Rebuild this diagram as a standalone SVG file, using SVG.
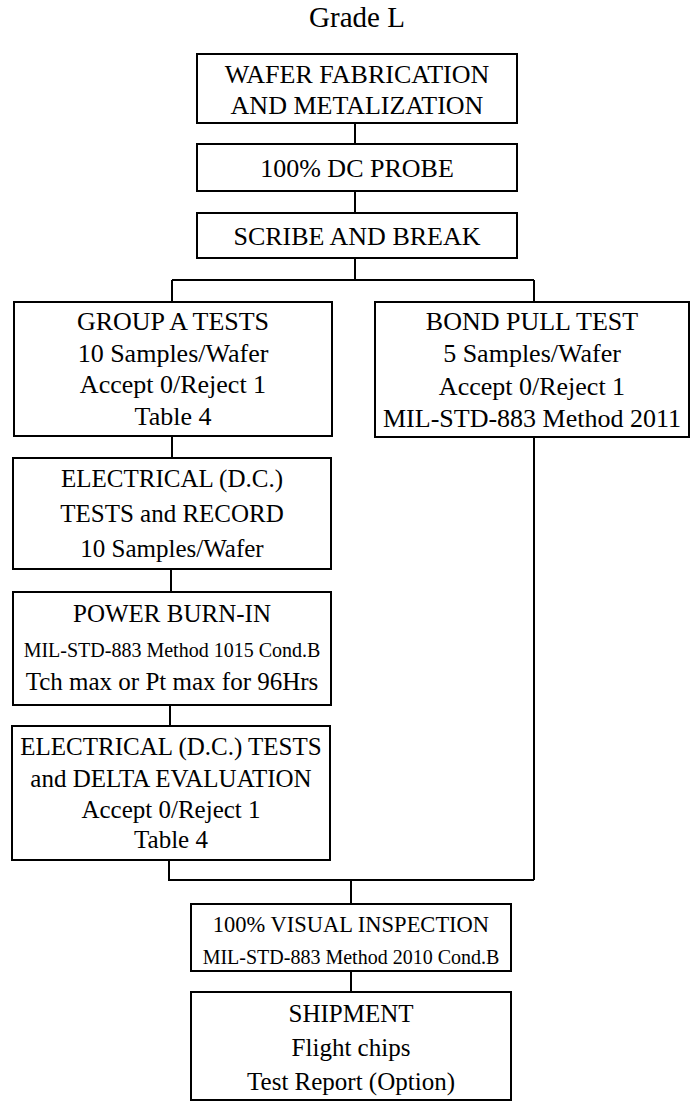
<svg xmlns="http://www.w3.org/2000/svg" width="690" height="1102" viewBox="0 0 690 1102" font-family="Liberation Serif, Times New Roman, DejaVu Serif, serif">
<style>
.box{fill:#fff;stroke:#000;stroke-width:2}
.c{fill:none;stroke:#000;stroke-width:2}
text{font-family:'Liberation Serif','Times New Roman','DejaVu Serif',serif;fill:#000;text-anchor:middle}
.t26{font-size:26px}
.t25{font-size:25px}
.t22{font-size:22.5px}
.t20{font-size:20px}
</style>
<rect width="690" height="1102" fill="#fff"/>
<text x="357" y="27" font-family="Liberation Serif, serif" style="font-size:29px">Grade L</text>
<g id="connectors">
<path class="c" d="M355 123V144M355 191V213M355 258V280M172 280H534M172 280V302M534 280V302M172 436V458M171 569V592M170 705V726M169 860V880H534M534 437V880M351 880V904M351 971V992"/>
</g>
<g font-family="Liberation Serif, serif">
<g id="wafer">
<rect class="box" x="197" y="54" width="320" height="69"/>
<text class="t26" x="357" y="83">WAFER FABRICATION</text>
<text class="t26" x="357" y="114">AND METALIZATION</text>
</g>
<g id="probe">
<rect class="box" x="197" y="144" width="320" height="47"/>
<text class="t26" x="357" y="177">100% DC PROBE</text>
</g>
<g id="scribe">
<rect class="box" x="197" y="213" width="320" height="45"/>
<text class="t26" x="357" y="245">SCRIBE AND BREAK</text>
</g>
<g id="groupA">
<rect class="box" x="14" y="302" width="318" height="134"/>
<text class="t26" x="173" y="330">GROUP A TESTS</text>
<text class="t26" x="173" y="362">10 Samples/Wafer</text>
<text class="t26" x="173" y="393">Accept 0/Reject 1</text>
<text class="t26" x="173" y="425">Table 4</text>
</g>
<g id="bondpull">
<rect class="box" x="375" y="302" width="314" height="135"/>
<text class="t26" x="532" y="330">BOND PULL TEST</text>
<text class="t26" x="532" y="362">5 Samples/Wafer</text>
<text class="t26" x="532" y="395">Accept 0/Reject 1</text>
<text class="t26" x="532" y="427">MIL-STD-883 Method 2011</text>
</g>
<g id="elec1">
<rect class="box" x="13" y="458" width="318" height="111"/>
<text class="t25" x="172" y="487">ELECTRICAL (D.C.)</text>
<text class="t25" x="172" y="522">TESTS and RECORD</text>
<text class="t25" x="172" y="557">10 Samples/Wafer</text>
</g>
<g id="burnin">
<rect class="box" x="13" y="592" width="318" height="113"/>
<text class="t25" x="172" y="622">POWER BURN-IN</text>
<text class="t20" x="172" y="657">MIL-STD-883 Method 1015 Cond.B</text>
<text class="t25" x="172" y="690">Tch max or Pt max for 96Hrs</text>
</g>
<g id="elec2">
<rect class="box" x="12" y="726" width="318" height="134"/>
<text class="t25" x="171" y="755">ELECTRICAL (D.C.) TESTS</text>
<text class="t25" x="171" y="787">and DELTA EVALUATION</text>
<text class="t25" x="171" y="818">Accept 0/Reject 1</text>
<text class="t25" x="171" y="848">Table 4</text>
</g>
<g id="visual">
<rect class="box" x="191" y="904" width="320" height="67"/>
<text class="t22" x="351" y="932">100% VISUAL INSPECTION</text>
<text class="t20" x="351" y="964">MIL-STD-883 Method 2010 Cond.B</text>
</g>
<g id="shipment">
<rect class="box" x="191" y="992" width="320" height="108"/>
<text class="t25" x="351" y="1022">SHIPMENT</text>
<text class="t25" x="351" y="1056">Flight chips</text>
<text class="t25" x="351" y="1090">Test Report (Option)</text>
</g>
</g>
</svg>
